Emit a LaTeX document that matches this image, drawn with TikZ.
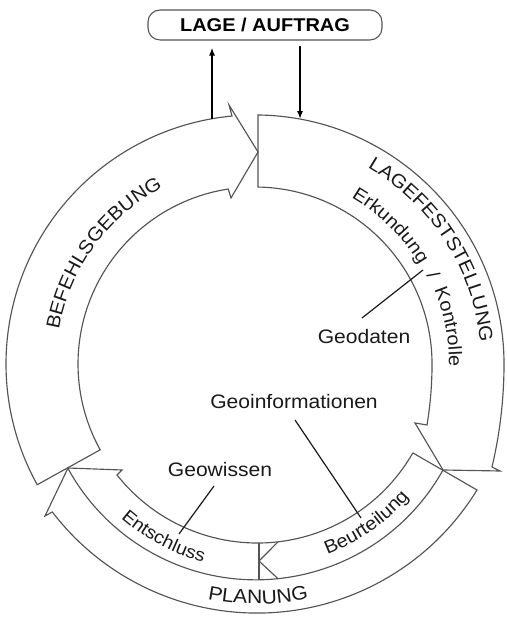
\documentclass[tikz,border=0pt]{standalone}
\usepackage{fontspec}
\setmainfont{Liberation Sans}[FakeStretch=1.08]
\usetikzlibrary{arrows.meta,calc,decorations.text}
\definecolor{outl}{HTML}{555555}
\definecolor{ink}{HTML}{1A1A1A}
\newcommand\myfs[1]{\fontsize{#1}{#1}\selectfont}
\begin{document}
\begin{tikzpicture}[x=1pt,y=1pt,
  outline/.style={draw=outl, line width=1.15pt, line join=miter},
  leader/.style={draw=ink, line width=1.2pt},
  conn/.style={draw=black, line width=1.6pt, -{Latex[length=8pt,width=6pt]}},
  lbl/.style={text=ink, font=\myfs{19.5}, inner sep=0pt, anchor=base},
  boxst/.style={draw=outl, line width=1.1pt, rounded corners=12pt, font=\bfseries\myfs{18.5}, text=black, inner sep=0pt},
  curv/.style={decorate, decoration={text along path, text align=center, text={#1}}}
]
\useasboundingbox (0,0) rectangle (506,617);
\coordinate (cB) at (255,253);
\coordinate (cC) at (256,253);
\coordinate (Btip) at (258,465);
\coordinate (Ltip) at (443,147);
\coordinate (Ptip) at (68,149);

% BEFEHLSGEBUNG arrow
\draw[outline] ($(cB)+(209:249)$) arc[start angle=209, end angle=95.3, radius=249]
  -- (229,512) -- (Btip) -- (231,419) -- ($(cB)+(98.7:177)$)
  arc[start angle=98.7, end angle=209, radius=177] -- cycle;

% LAGEFESTSTELLUNG arrow
\draw[outline] (258,430) -- (258,502) arc[start angle=89.31, end angle=0, radius=249]
  arc[start angle=0, end angle=-13.3, radius=448]
  -- (500,146) -- (Ltip) -- (415,194) -- (427,192)
  arc[start angle=-9.37, end angle=0, radius=374.6]
  arc[start angle=0, end angle=89.03, radius=177] -- cycle;

% PLANUNG arrow
\draw[outline] (413,164) -- (477,127) arc[start angle=-31.53, end angle=-142.55, radius=258]
  -- (45,101) -- (Ptip) -- (122,147) -- (117,142)
  arc[start angle=-141.69, end angle=-29.83, radius=179] -- cycle;
% separator between the two bands
\draw[outline] (Ltip) arc[start angle=-29.18, end angle=-151.29, radius=214.3];
% Beurteilung / Entschluss division
\coordinate (dv1) at (259,73.9);
\coordinate (dv2) at (259,37.2);
\draw[outline] (dv1) -- (dv2);
\coordinate (ch1) at (278,75.1);
\coordinate (ch2) at (259,56);
\coordinate (ch3) at (278,38.3);
\draw[outline] (ch1) -- (ch2) -- (ch3);

% box and connectors
\node[boxst, minimum width=234pt, minimum height=30pt] (lage) at (265,592) {LAGE / AUFTRAG};
\coordinate (bUp) at ($(cB)+(99.94:249)$);
\coordinate (lUp) at ($(cB)+(79.58:249)$);
\coordinate (upEnd) at ($(lage.south -| bUp)+(0,-7)$);
\coordinate (dnStart) at ($(lage.south -| lUp)+(0,-5)$);
\draw[conn] (bUp) -- (upEnd);
\draw[conn] (dnStart) -- (lUp);

% labels
\node[lbl] (geod) at (364,273) {Geodaten};
\node[lbl] (geoinf) at (294,208) {Geoinformationen};
\node[lbl] (geow) at (220,140) {Geowissen};
\coordinate (gd1) at (362,299);
\coordinate (gd2) at (423,347);
\coordinate (gi1) at (295,197);
\coordinate (gi2) at (361,99);
\coordinate (gw1) at (214,131);
\coordinate (gw2) at (179,83);
\draw[leader] (gd1) -- (gd2);
\draw[leader] (gi1) -- (gi2);
\draw[leader] (gw1) -- (gw2);

% curved texts
\path[curv={|\myfs{19}\color{ink}|BEFEHLSGEBUNG}] ($(cB)+(203.9:199)$) arc[start angle=203.9, end angle=83.9, radius=199];
\path[curv={|\myfs{19}\color{ink}|LAGEFESTSTELLUNG}] ($(cB)+(92.8:226)$) arc[start angle=92.8, end angle=-27.2, radius=226];
\path[curv={|\myfs{18.5}\color{ink}|Erkundung}] ($(cB)+(75.5:192)$) arc[start angle=75.5, end angle=15.5, radius=192];
\path[curv={|\myfs{18.5}\color{ink}|/}] ($(cB)+(46.6:193)$) arc[start angle=46.6, end angle=6.6, radius=193];
\path[curv={|\myfs{18.5}\color{ink}|Kontrolle}] ($(cB)+(40.8:194)$) arc[start angle=40.8, end angle=-19.2, radius=194];
\path[curv={|\myfs{18.5}\color{ink}|Beurteilung}] ($(cC)+(-90.2:203)$) arc[start angle=-90.2, end angle=-20.2, radius=203];
\path[curv={|\myfs{18}\color{ink}|Entschluss}] ($(cC)+(-153.1:205)$) arc[start angle=-153.1, end angle=-83.1, radius=205];
\path[curv={|\myfs{19.5}\color{ink}|PLANUNG}] ($(cC)+(-124.5:240)$) arc[start angle=-124.5, end angle=-54.5, radius=240];
\end{tikzpicture}
\end{document}
